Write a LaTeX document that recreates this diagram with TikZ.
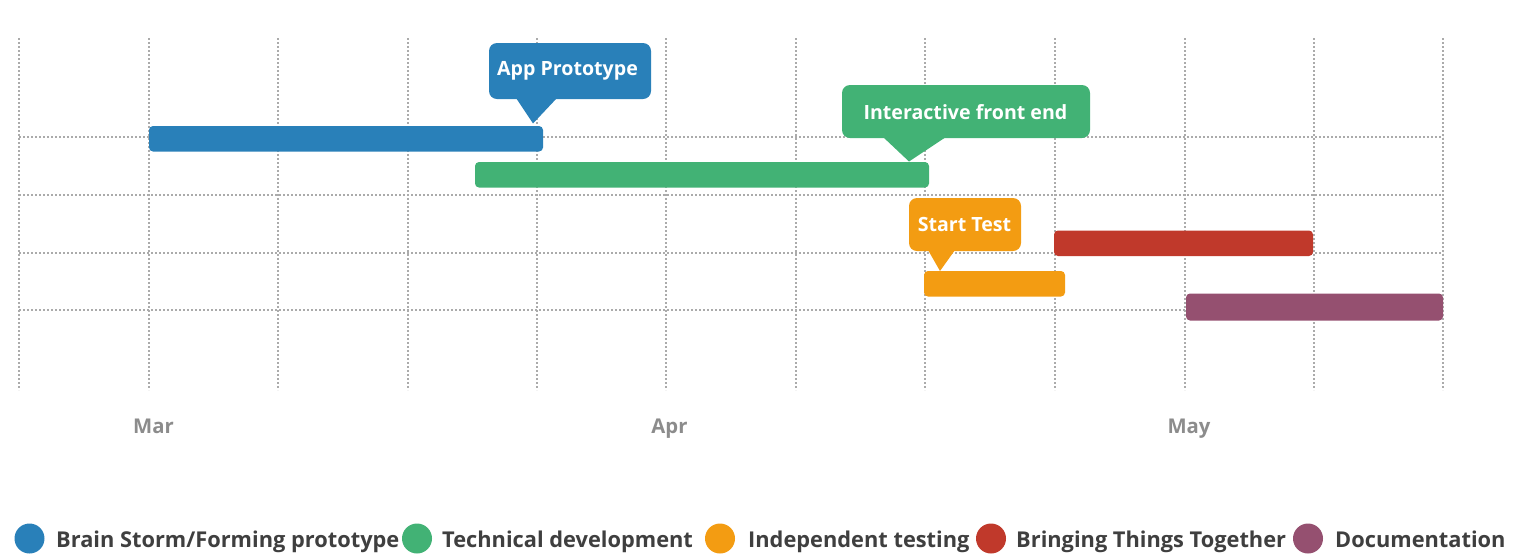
\documentclass[tikz,border=0pt]{standalone}
\usepackage{fontspec}
\setmainfont{Open Sans}
\definecolor{cblue}{HTML}{2980B9}
\definecolor{cgreen}{HTML}{42B275}
\definecolor{corange}{HTML}{F39C12}
\definecolor{cred}{HTML}{C0392B}
\definecolor{cpurple}{HTML}{955070}
\definecolor{gridc}{HTML}{ABABAB}
\definecolor{monthc}{HTML}{8C8C8C}
\definecolor{legc}{HTML}{3F3F3F}
\newcommand\legendfont{\fontsize{21.8}{26}\selectfont\bfseries}
\newcommand\calloutfont{\fontsize{19.6}{24}\selectfont\bfseries}
\newcommand\monthfont{\fontsize{20.3}{24}\selectfont\bfseries}
\begin{document}
\begin{tikzpicture}[x=1pt,y=-1pt,
  gridline/.style={gridc, line width=1.6pt, dash pattern=on 2pt off 2pt},
  bar/.style={draw=none, rounded corners=4pt, inner sep=0pt, outer sep=0pt, anchor=north west, minimum height=25.5pt},
  callout/.style={rounded corners=8pt, inner sep=0pt, outer sep=0pt},
  callouttext/.style={anchor=base, inner sep=0pt, text=white, font=\calloutfont},
  month/.style={anchor=base, inner sep=0pt, text=monthc, font=\monthfont},
  legdot/.style={circle, inner sep=0pt, minimum size=30pt},
  legtext/.style={anchor=base west, inner sep=0pt, text=legc, font=\legendfont}]
\useasboundingbox (0,0) rectangle (1518,558);

% grid
\foreach \x in {19,149,278,408,537,666,796,925,1055,1185,1314,1443}
  \draw[gridline] (\x,38) -- (\x,390);
\foreach \y in {137,195,253,310}
  \draw[gridline] (19,\y) -- (1443,\y);

% task bars
\node[bar, fill=cblue,   minimum width=394pt] (b1) at (149,126) {};
\node[bar, fill=cgreen,  minimum width=454pt] (b2) at (475,162) {};
\node[bar, fill=cred,    minimum width=259pt] (b4) at (1054,230.5) {};
\node[bar, fill=corange, minimum width=141pt] (b3) at (924,271) {};
\node[bar, fill=cpurple, minimum width=257pt, minimum height=27pt] (b5) at (1186,293.5) {};

% milestone callouts
\node[callout, fill=cblue, minimum width=162pt, minimum height=56pt] (c1) at (570,71) {};
\node[callouttext] (c1t) at (567.5,75) {App Prototype};
\coordinate (t1) at (533,123.5);
\fill[cblue] (516,98) -- (557,98) -- (t1) -- cycle;

\node[callout, fill=cgreen, minimum width=248pt, minimum height=53pt] (c2) at (966,111.5) {};
\node[callouttext] (c2t) at (965.5,119) {Interactive front end};
\coordinate (t2) at (909,161.5);
\fill[cgreen] (883,137) -- (946,137) -- (t2) -- cycle;

\node[callout, fill=corange, minimum width=112pt, minimum height=53pt] (c3) at (965,224.5) {};
\node[callouttext] (c3t) at (964.5,231) {Start Test};
\coordinate (t3) at (940,271);
\fill[corange] (928,250) -- (955,250) -- (t3) -- cycle;

% month labels
\node[month] (m1) at (153.5,433) {Mar};
\node[month] (m2) at (669.5,433) {Apr};
\node[month] (m3) at (1189,433) {May};

% legend
\node[legdot, fill=cblue]   (l1) at (29.5,538.5) {};
\node[legtext] (lt1) at (56,547) {Brain Storm/Forming prototype};
\node[legdot, fill=cgreen]  (l2) at (417,538.5) {};
\node[legtext] (lt2) at (442,547) {Technical development};
\node[legdot, fill=corange] (l3) at (720,538.5) {};
\node[legtext] (lt3) at (748,547) {Independent testing};
\node[legdot, fill=cred]    (l4) at (991,538.5) {};
\node[legtext] (lt4) at (1016,547) {Bringing Things Together};
\node[legdot, fill=cpurple] (l5) at (1308,538.5) {};
\node[legtext] (lt5) at (1335,547) {Documentation};
\end{tikzpicture}
\end{document}
